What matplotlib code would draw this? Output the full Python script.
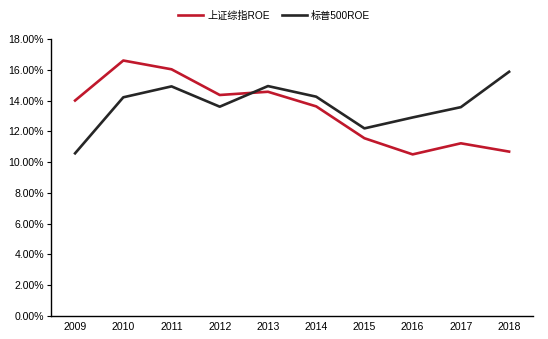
import matplotlib
matplotlib.use("Agg")
import matplotlib.pyplot as plt
from matplotlib.ticker import FuncFormatter

plt.rcParams['font.family'] = ['Liberation Sans', 'Noto Sans CJK SC', 'DejaVu Sans']

years = ['2009', '2010', '2011', '2012', '2013', '2014', '2015', '2016', '2017', '2018']
sse_roe = [14.0, 16.6, 16.03, 14.36, 14.57, 13.62, 11.55, 10.5, 11.22, 10.68]
sp500_roe = [10.57, 14.21, 14.92, 13.6, 14.94, 14.25, 12.19, 12.9, 13.57, 15.87]
series_names = ['上证综指ROE', '标普500ROE']

fig = plt.figure(figsize=(5.48, 3.39), dpi=100)
ax = fig.add_axes([0.093, 0.068, 0.880, 0.817])

x = list(range(len(years)))
l1, = ax.plot(x, sse_roe, color='#C0182C', lw=1.9, label=series_names[0])
l2, = ax.plot(x, sp500_roe, color='#262626', lw=1.9, label=series_names[1])

ax.set_xlim(-0.5, len(years) - 0.5)
ax.set_ylim(0, 18)
ax.set_yticks([0, 2, 4, 6, 8, 10, 12, 14, 16, 18])
ax.yaxis.set_major_formatter(FuncFormatter(lambda v, p: f'{v:.2f}%'))
ax.set_xticks(x)
ax.set_xticklabels(years)

for s in ['top', 'right']:
    ax.spines[s].set_visible(False)
for s in ['left', 'bottom']:
    ax.spines[s].set_linewidth(1.0)
    ax.spines[s].set_color('black')

ax.tick_params(axis='y', length=3, width=0.8, labelsize=7.6, pad=2, colors='black')
ax.tick_params(axis='x', length=0, labelsize=7.6, pad=4, colors='black')

fig.legend(handles=[l1, l2], loc='center', bbox_to_anchor=(0.5, 0.953), ncol=2,
           frameon=False, fontsize=7.3, handlelength=2.5, handletextpad=0.4,
           columnspacing=1.2)

fig.savefig('out.png', dpi=100, facecolor='white')
